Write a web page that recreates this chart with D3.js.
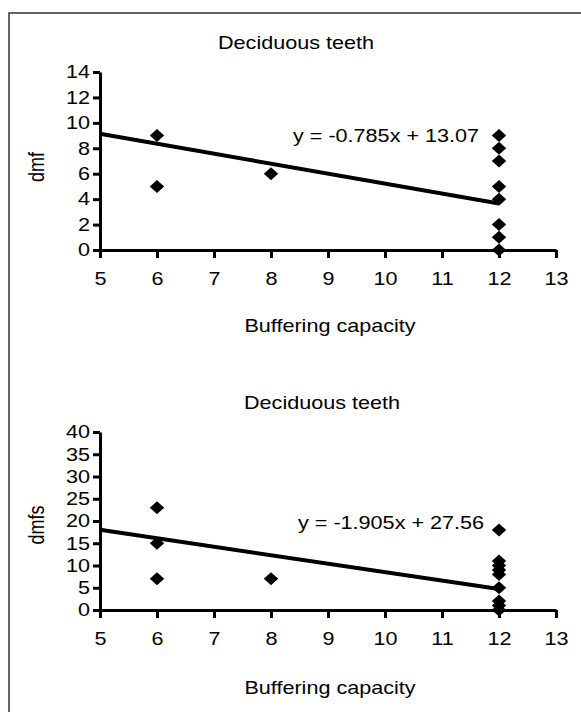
<!DOCTYPE html>
<html>
<head>
<meta charset="utf-8">
<script src="https://cdn.jsdelivr.net/npm/d3@7"></script>
<style>
  body { margin: 0; background: #fff; }
  text { font-family: "Liberation Sans", Arial, sans-serif; font-size: 18px; fill: #000; }
</style>
</head>
<body>
<svg id="chart" width="581" height="712"></svg>
<script>
// values
var xTicks = [5, 6, 7, 8, 9, 10, 11, 12, 13];
var dmfTicks = [0, 2, 4, 6, 8, 10, 12, 14];
var dmfsTicks = [0, 5, 10, 15, 20, 25, 30, 35, 40];

var dmfX = [6, 6, 8, 12, 12, 12, 12, 12, 12, 12, 12];
var dmfY = [9, 5, 6, 9, 8, 7, 5, 4, 2, 1, 0];

var dmfsX = [6, 6, 6, 8, 12, 12, 12, 12, 12, 12, 12, 12, 12];
var dmfsY = [23, 15, 7, 7, 18, 11, 10, 9, 8, 5, 2, 1, 0];

var titles = ["Deciduous teeth", "Deciduous teeth"];
var yTitles = ["dmf", "dmfs"];
var xTitle = "Buffering capacity";
var slopes = [-0.785, -1.905];
var intercepts = [13.07, 27.56];
var equations = ["y = -0.785x + 13.07", "y = -1.905x + 27.56"];
var trendFrom = 5, trendTo = 12;

var stretch = 1.2; // text in the picture is a bit wider than normal

var svg = d3.select("#chart");

// frame (left and top edges visible)
svg.append("rect")
    .attr("x", 9).attr("y", 13)
    .attr("width", 700).attr("height", 800)
    .attr("fill", "none")
    .attr("stroke", "#333")
    .attr("stroke-width", 1.5);

var x = d3.scaleLinear().domain([5, 13]).range([100, 556]);

var panels = [
    {xs: dmfX, ys: dmfY, ticks: dmfTicks, top: 72, bottom: 250, titleY: 49, eqX: 293, eqY: 142, labY: 167, xTitleY: 332},
    {xs: dmfsX, ys: dmfsY, ticks: dmfsTicks, top: 432, bottom: 610, titleY: 409, eqX: 298, eqY: 529, labY: 525, xTitleY: 694}
];

// diamond a little wider than tall, like the excel marker
var diamondType = {
    draw: function (ctx) {
        ctx.moveTo(0, -6.5);
        ctx.lineTo(7.2, 0);
        ctx.lineTo(0, 6.5);
        ctx.lineTo(-7.2, 0);
        ctx.closePath();
    }
};

function wideText(g, str, cx, cy, anchor) {
    return g.append("text")
        .attr("transform", "translate(" + cx + "," + cy + ") scale(" + stretch + ",1)")
        .attr("text-anchor", anchor || "middle")
        .text(str);
}

panels.forEach(function (p, i) {
    var g = svg.append("g");
    var ticks = p.ticks;
    var y = d3.scaleLinear().domain([ticks[0], ticks[ticks.length - 1]]).range([p.bottom, p.top]);

    // titles
    wideText(g, titles[i], i == 0 ? 296 : 322, p.titleY);
    wideText(g, xTitle, 330, p.xTitleY);
    g.append("text")
        .attr("transform", "translate(44," + p.labY + ") scale(" + stretch + ",1) rotate(-90)")
        .attr("text-anchor", "middle")
        .text(yTitles[i]);

    // axes
    var yAxis = d3.axisLeft(y).tickValues(ticks).tickSize(7).tickPadding(3).tickSizeOuter(0);
    var axisY = g.append("g").attr("transform", "translate(" + x(5) + ",0)").call(yAxis);

    var xAxis = d3.axisBottom(x).tickValues(xTicks).tickSize(8).tickPadding(14).tickSizeOuter(0);
    var axisX = g.append("g").attr("transform", "translate(0," + y(0) + ")").call(xAxis);

    [axisX, axisY].forEach(function (a) {
        a.select(".domain").attr("stroke", "#000").attr("stroke-width", 3);
        a.selectAll(".tick line").attr("stroke", "#000").attr("stroke-width", 3);
        a.selectAll("text")
            .style("font-size", "18px")
            .attr("font-family", null)
            .attr("x", function () { return +d3.select(this).attr("x") / stretch; })
            .attr("transform", "scale(" + stretch + ",1)");
    });

    // trend line
    var trend = [trendFrom, trendTo].map(function (v) {
        return {x: v, y: slopes[i] * v + intercepts[i]};
    });
    g.append("path")
        .datum(trend)
        .attr("fill", "none")
        .attr("stroke", "#000")
        .attr("stroke-width", 4)
        .attr("d", d3.line().x(function (d) { return x(d.x); }).y(function (d) { return y(d.y); }));

    // points
    var diamond = d3.symbol().type(diamondType);
    g.selectAll(".pt")
        .data(p.xs.map(function (v, k) { return {x: v, y: p.ys[k]}; }))
        .enter().append("path")
        .attr("class", "pt")
        .attr("d", diamond)
        .attr("fill", "#000")
        .attr("transform", function (d) {
            return "translate(" + x(d.x) + "," + y(d.y) + ")";
        });

    // equation
    wideText(g, equations[i], p.eqX, p.eqY, "start");
});
</script>
</body>
</html>
